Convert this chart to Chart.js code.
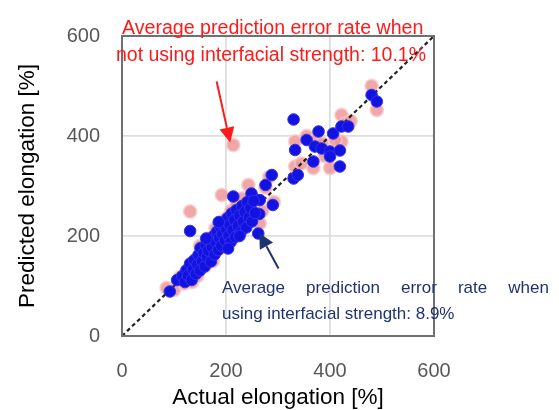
<!DOCTYPE html>
<html>
<head>
<meta charset="utf-8">
<script src="https://cdn.jsdelivr.net/npm/chart.js@4/dist/chart.umd.min.js"></script>
<style>
  html,body{margin:0;padding:0;background:#fff;}
  #wrap{position:relative;width:559px;height:410px;overflow:hidden;}
  canvas{position:absolute;left:0;top:0;}
  .ann{position:absolute;font-family:"Liberation Sans",Arial,sans-serif;white-space:nowrap;line-height:1;}
  .red{color:#ff1a1a;}
  .navy{color:#1f3370;}
</style>
</head>
<body>
<div id="wrap">
  <canvas id="c" width="559" height="410"></canvas>
  <div class="ann red" id="r1" style="left:122px;top:18px;font-size:19.6px;">Average prediction error rate when</div>
  <div class="ann red" id="r2" style="left:116px;top:45px;font-size:19.5px;">not using interfacial strength: 10.1%</div>
  <div class="ann navy" id="b1" style="left:222px;top:279px;font-size:17px;width:327px;text-align:justify;text-align-last:justify;white-space:normal;">Average prediction error rate when</div>
  <div class="ann navy" id="b2" style="left:222px;top:305px;font-size:17px;">using interfacial strength: 8.9%</div>
</div>
<script>
// ---- data ----
const xTicks = [0, 200, 400, 600];
const yTicks = [0, 200, 400, 600];
const xTitle = "Actual elongation [%]";
const yTitle = "Predicted elongation [%]";

// With interfacial strength (blue)
const withStrengthX = [
  480,490,330,378,355,333,406,422,435,371,384,400,419,400,368,419,330,338,
  288,276,249,265,290,214,131,264,262,92,106,
  116,121,124,127,131,134,137,139,142,145,147,150,151,154,157,159,161,164,166,169,
  171,173,176,178,180,183,185,187,189,191,193,196,198,200,203,205,207,209,211,213,
  216,218,220,223,226,228,231,233,236,239,241,244,247,250,253,256,186,162,204,226];
const withStrengthY = [
  482,469,433,409,392,372,405,419,419,379,375,369,371,359,349,339,315,322,
  322,302,285,272,262,279,210,244,205,89,112,
  120,108,132,121,145,112,133,152,124,143,162,131,176,150,166,139,182,158,171,193,
  149,178,200,163,187,209,172,196,218,181,204,226,191,214,236,200,222,188,245,212,
  232,198,252,220,241,207,260,229,248,217,268,237,256,229,270,246,228,195,175,200];

// Without interfacial strength (pink)
const withoutStrengthX = [
  86,100,112,120,135,145,160,175,185,195,205,215,225,235,245,255,
  150,165,180,200,210,220,230,131,192,265,243,214,270,276,283,292,252,
  333,333,368,400,422,422,490,480,355,375,390,410,430,440,345,385];
const withoutStrengthY = [
  96,92,118,105,108,120,140,150,175,178,188,200,212,225,235,245,
  180,195,215,235,250,262,275,249,282,225,302,382,250,297,318,268,275,
  389,339,336,336,442,389,452,500,400,395,360,392,425,430,345,385];

// 1:1 reference line
const refLineX = [0, 600];
const refLineY = [0, 600];

// annotation arrows (in data units): [fromX, fromY, toX, toY]
const redArrow = [182, 509, 208, 387];
const navyArrow = [301, 135, 264, 206];

const toPts = (xs, ys) => xs.map((x, i) => ({x, y: ys[i]}));

const frame = {
  id: 'frame',
  afterDraw(chart) {
    const {ctx, chartArea: a, scales} = chart;
    ctx.save();
    ctx.strokeStyle = '#707070';
    ctx.lineWidth = 2;
    ctx.strokeRect(a.left, a.top, a.right - a.left, a.bottom - a.top);
    const arrow = (arr, color) => {
      const x1 = scales.x.getPixelForValue(arr[0]), y1 = scales.y.getPixelForValue(arr[1]);
      const x2 = scales.x.getPixelForValue(arr[2]), y2 = scales.y.getPixelForValue(arr[3]);
      const ang = Math.atan2(y2 - y1, x2 - x1);
      const hl = 15, hw = 7.5;
      const bx = x2 - hl * Math.cos(ang), by = y2 - hl * Math.sin(ang);
      ctx.strokeStyle = color; ctx.fillStyle = color; ctx.lineWidth = 2;
      ctx.beginPath(); ctx.moveTo(x1, y1); ctx.lineTo(bx, by); ctx.stroke();
      ctx.beginPath();
      ctx.moveTo(x2, y2);
      ctx.lineTo(bx + hw * Math.sin(ang), by - hw * Math.cos(ang));
      ctx.lineTo(bx - hw * Math.sin(ang), by + hw * Math.cos(ang));
      ctx.closePath(); ctx.fill();
    };
    arrow(redArrow, '#ff1a1a');
    arrow(navyArrow, '#1f3370');
    ctx.restore();
  }
};

new Chart(document.getElementById('c'), {
  type: 'scatter',
  data: {
    datasets: [
      {label: 'with', data: toPts(withStrengthX, withStrengthY), backgroundColor: 'rgb(18,18,225)', borderColor: 'rgb(50,50,235)', borderWidth: 1, pointRadius: 5.8, order: 0},
      {label: 'ref', type: 'line', data: toPts(refLineX, refLineY), borderColor: '#222', borderWidth: 2.2, borderDash: [4, 3], pointRadius: 0, fill: false, order: 1},
      {label: 'without', data: toPts(withoutStrengthX, withoutStrengthY), backgroundColor: 'rgba(236,152,152,0.85)', borderColor: 'rgba(248,200,200,0.7)', borderWidth: 2, pointRadius: 6.5, order: 2}
    ]
  },
  options: {
    responsive: false,
    animation: false,
    events: [],
    layout: {padding: {left: 0, right: 125, top: 36, bottom: 0}},
    plugins: {legend: {display: false}, tooltip: {enabled: false}},
    scales: {
      x: {
        type: 'linear', min: 0, max: 600,
        afterBuildTicks: s => { s.ticks = xTicks.map(v => ({value: v})); },
        afterFit: s => { s.height = 74; },
        grid: {color: '#dedede', lineWidth: 1.8, drawTicks: false},
        border: {display: false},
        ticks: {color: '#585858', padding: 23, font: {family: 'Liberation Sans', size: 20}},
        title: {display: true, text: xTitle, color: '#000', font: {family: 'Liberation Sans', size: 22.5}, padding: {top: 0, bottom: -1}}
      },
      y: {
        type: 'linear', min: 0, max: 600,
        afterBuildTicks: s => { s.ticks = yTicks.map(v => ({value: v})); },
        afterFit: s => { s.width = 122; },
        grid: {color: '#dedede', lineWidth: 1.8, drawTicks: false},
        border: {display: false},
        ticks: {color: '#585858', padding: 22, font: {family: 'Liberation Sans', size: 20}},
        title: {display: true, text: yTitle, color: '#000', font: {family: 'Liberation Sans', size: 22.5}, padding: {top: 14, bottom: 0}}
      }
    }
  },
  plugins: [frame]
});
</script>
</body>
</html>
